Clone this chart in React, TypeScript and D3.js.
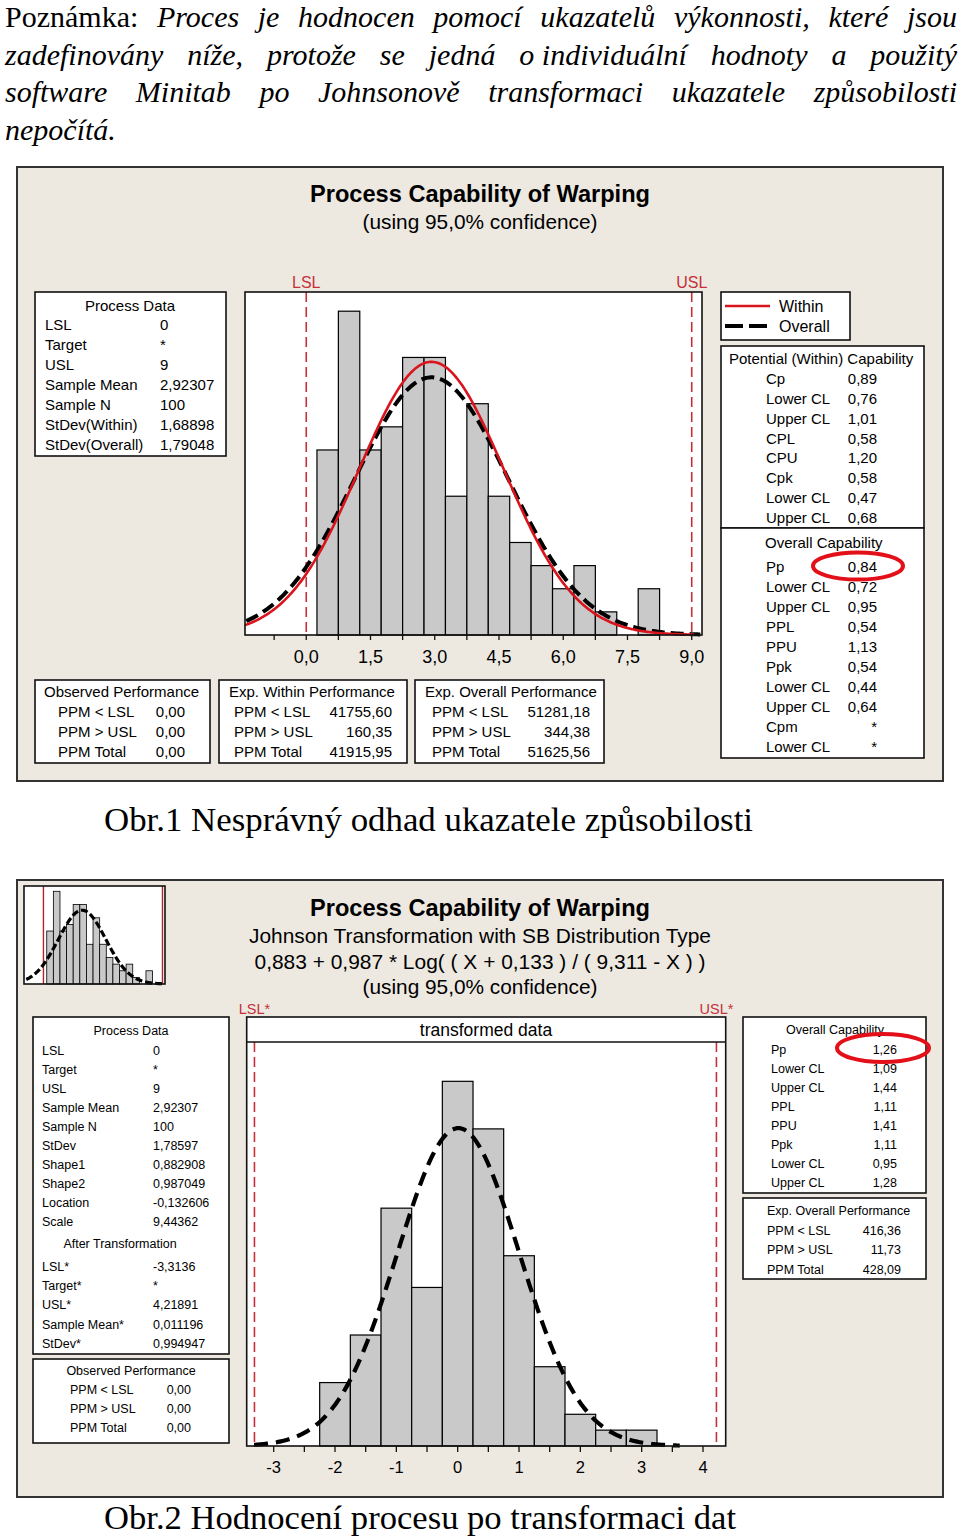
import React, { useMemo } from 'react';
import * as d3 from 'd3';

// ---------------- DATA ----------------
const notePrefix = 'Poznámka:';
const noteLines = [
  'Proces je hodnocen pomocí ukazatelů výkonnosti, které jsou',
  'zadefinovány níže, protože se jedná o\u00A0individuální hodnoty a použitý',
  'software Minitab po Johnsonově transformaci ukazatele způsobilosti',
  'nepočítá.',
];
const caption1 = 'Obr.1 Nesprávný odhad ukazatele způsobilosti';
const caption2 = 'Obr.2 Hodnocení procesu po transformaci dat';

const title = 'Process Capability of Warping';
const subtitle = '(using 95,0% confidence)';
const johnsonLine = 'Johnson Transformation with SB Distribution Type';
const formulaLine = '0,883 + 0,987 * Log( ( X + 0,133 ) / ( 9,311 - X ) )';

// original data histogram (bin width 0.5)
const topBinCenters = [0.5, 1, 1.5, 2, 2.5, 3, 3.5, 4, 4.5, 5, 5.5, 6, 6.5, 7, 7.5, 8];
const topCounts = [8, 14, 8, 9, 12, 12, 6, 10, 6, 4, 3, 2, 3, 1, 0, 2];
const topBinWidth = 0.5;
const topTickLabels = [0, 1.5, 3, 4.5, 6, 7.5, 9];
const topMinorTicks = [-0.75, 0, 0.75, 1.5, 2.25, 3, 3.75, 4.5, 5.25, 6, 6.75, 7.5, 8.25, 9];
const LSL = 0, USL = 9;
const sampleN = 100;
const sampleMean = 2.92307;
const sdWithin = 1.68898;
const sdOverall = 1.79048;

// transformed data histogram
const botBinCenters = [-2, -1.5, -1, -0.5, 0, 0.5, 1, 1.5, 2, 2.5, 3];
const botCounts = [4, 7, 15, 10, 23, 20, 12, 5, 2, 1, 1];
const botBinWidth = 0.5;
const botTickLabels = [-3, -2, -1, 0, 1, 2, 3, 4];
const botMinorTicks = [-3, -2.5, -2, -1.5, -1, -0.5, 0, 0.5, 1, 1.5, 2, 2.5, 3, 3.5, 4];
const LSLt = -3.3136, USLt = 4.21891;
const meanT = 0.011196;
const sdT = 0.994947;

// tables
const topProcessData = [
  ['LSL', '0'], ['Target', '*'], ['USL', '9'], ['Sample Mean', '2,92307'],
  ['Sample N', '100'], ['StDev(Within)', '1,68898'], ['StDev(Overall)', '1,79048'],
];
const observedPerf = [['PPM < LSL', '0,00'], ['PPM > USL', '0,00'], ['PPM Total', '0,00']];
const expWithinPerf = [['PPM < LSL', '41755,60'], ['PPM > USL', '160,35'], ['PPM Total', '41915,95']];
const expOverallPerf = [['PPM < LSL', '51281,18'], ['PPM > USL', '344,38'], ['PPM Total', '51625,56']];
const potentialCap = [
  ['Cp', '0,89'], ['Lower CL', '0,76'], ['Upper CL', '1,01'], ['CPL', '0,58'],
  ['CPU', '1,20'], ['Cpk', '0,58'], ['Lower CL', '0,47'], ['Upper CL', '0,68'],
];
const overallCapTop = [
  ['Pp', '0,84'], ['Lower CL', '0,72'], ['Upper CL', '0,95'], ['PPL', '0,54'], ['PPU', '1,13'],
  ['Ppk', '0,54'], ['Lower CL', '0,44'], ['Upper CL', '0,64'], ['Cpm', '*'], ['Lower CL', '*'],
];
const botProcessData = [
  ['LSL', '0'], ['Target', '*'], ['USL', '9'], ['Sample Mean', '2,92307'], ['Sample N', '100'],
  ['StDev', '1,78597'], ['Shape1', '0,882908'], ['Shape2', '0,987049'], ['Location', '-0,132606'],
  ['Scale', '9,44362'],
];
const afterTransformation = [
  ['LSL*', '-3,3136'], ['Target*', '*'], ['USL*', '4,21891'], ['Sample Mean*', '0,011196'], ['StDev*', '0,994947'],
];
const overallCapBot = [
  ['Pp', '1,26'], ['Lower CL', '1,09'], ['Upper CL', '1,44'], ['PPL', '1,11'],
  ['PPU', '1,41'], ['Ppk', '1,11'], ['Lower CL', '0,95'], ['Upper CL', '1,28'],
];
const expOverallPerfBot = [['PPM < LSL', '416,36'], ['PPM > USL', '11,73'], ['PPM Total', '428,09']];

// ---------------- STYLE ----------------
const SANS = "'Liberation Sans', Arial, sans-serif";
const SERIF = "'Liberation Serif', 'Times New Roman', serif";
const BG = '#EDE9E1';
const CURVE_RED = '#D9141C';
const LIMIT_RED = '#C5303A';
const BAR = '#C9C9C9';

const fmtComma = (v: number) => d3.format('.1f')(v).replace('.', ',');

const normalFit = (m: number, s: number, n: number, bw: number) => (v: number) =>
  (n * bw) / (s * Math.sqrt(2 * Math.PI)) * Math.exp(-0.5 * ((v - m) / s) ** 2);

function curvePath(
  x: d3.ScaleLinear<number, number>, y: d3.ScaleLinear<number, number>,
  f: (v: number) => number, x0: number, x1: number,
) {
  const pts = d3.range(x0, x1 + 1e-9, (x1 - x0) / 300).map((v) => [v, f(v)] as [number, number]);
  return d3.line<[number, number]>().x((d) => x(d[0])).y((d) => y(d[1])).curve(d3.curveLinear)(pts) || '';
}

function Bars({ x, y, centers, counts, bw, sw = 1.2 }: any) {
  return (
    <g>
      {centers.map((c: number, i: number) =>
        counts[i] > 0 ? (
          <rect key={i} x={x(c - bw / 2)} y={y(counts[i])} width={x(c + bw / 2) - x(c - bw / 2)}
            height={y(0) - y(counts[i])} fill={BAR} stroke="#000" strokeWidth={sw} />
        ) : null,
      )}
    </g>
  );
}

type Row = string[];
function TableRows({ rows, lx, vx, y0, dy, fs, anchor = 'end' }: { rows: Row[]; lx: number; vx: number; y0: number; dy: number; fs: number; anchor?: string }) {
  return (
    <g fontFamily={SANS} fontSize={fs} fill="#000">
      {rows.map((r, i) => (
        <g key={i}>
          <text x={lx} y={y0 + i * dy} dominantBaseline="central">{r[0]}</text>
          <text x={vx} y={y0 + i * dy} dominantBaseline="central" textAnchor={anchor as any}>{r[1]}</text>
        </g>
      ))}
    </g>
  );
}

function Box({ x0, y0, x1, y1, sw = 1.6 }: any) {
  return <rect x={x0} y={y0} width={x1 - x0} height={y1 - y0} fill="#fff" stroke="#111" strokeWidth={sw} />;
}

function JustifiedNote() {
  const layout = useMemo(() => {
    const canvas = document.createElement('canvas');
    const ctx = canvas.getContext('2d')!;
    const fs = 30;
    const fItal = `italic ${fs}px 'Liberation Serif'`;
    const fReg = `${fs}px 'Liberation Serif'`;
    const left = 5, right = 957;
    const out: { t: string; x: number; y: number; it: boolean }[] = [];
    noteLines.forEach((line, li) => {
      const words = line.split(' ').map((t) => ({ t, it: true }));
      if (li === 0) words.unshift({ t: notePrefix, it: false });
      const widths = words.map((w) => {
        ctx.font = w.it ? fItal : fReg;
        return ctx.measureText(w.t).width;
      });
      ctx.font = fItal;
      const space = ctx.measureText(' ').width;
      const total = d3.sum(widths);
      const last = li === noteLines.length - 1;
      const gap = last || words.length < 2 ? space : (right - left - total) / (words.length - 1);
      let cx = left;
      const yb = 27 + li * 37.5;
      words.forEach((w, i) => {
        out.push({ t: w.t, x: cx, y: yb, it: w.it });
        cx += widths[i] + gap;
      });
    });
    return out;
  }, []);
  return (
    <g fontFamily={SERIF} fontSize={30} fill="#000">
      {layout.map((w, i) => (
        <text key={i} x={w.x} y={w.y} fontStyle={w.it ? 'italic' : 'normal'}>{w.t}</text>
      ))}
    </g>
  );
}

export default function App() {
  // top chart scales
  const xTop = d3.scaleLinear().domain([-1.43, 9.24]).range([245, 702]);
  const yTop = d3.scaleLinear().domain([0, 14.83]).range([635, 292]);
  const withinF = normalFit(sampleMean, sdWithin, sampleN, topBinWidth);
  const overallF = normalFit(sampleMean, sdOverall, sampleN, topBinWidth);

  // inset scales
  const xIn = d3.scaleLinear().domain([-1.47, 9.19]).range([24, 165]);
  const yIn = d3.scaleLinear().domain([0, 14.8]).range([984, 886]);

  // bottom chart scales
  const xBot = d3.scaleLinear().domain([-3.44, 4.37]).range([246.7, 725.7]);
  const yBot = d3.scaleLinear().domain([0, 25.48]).range([1446, 1042]);
  const transF = normalFit(meanT, sdT, sampleN, botBinWidth);

  return (
    <svg width={960} height={1540} viewBox="0 0 960 1540"
      style={{ position: 'absolute', left: 0, top: 0, background: '#fff' }}>
      <rect x={0} y={0} width={960} height={1540} fill="#fff" />
      <JustifiedNote />

      {/* ================= TOP PANEL ================= */}
      <rect x={17} y={167} width={926} height={614} fill={BG} stroke="#333" strokeWidth={2} />
      <g fontFamily={SANS} textAnchor="middle" fill="#000">
        <text x={480} y={193} fontSize={24} fontWeight="bold" dominantBaseline="central"
          textLength={340} lengthAdjust="spacingAndGlyphs">{title}</text>
        <text x={480} y={221} fontSize={21} dominantBaseline="central"
          textLength={235} lengthAdjust="spacingAndGlyphs">{subtitle}</text>
      </g>

      {/* histogram frame */}
      <rect x={xTop.range()[0]} y={yTop.range()[1]} width={xTop.range()[1] - xTop.range()[0]}
        height={yTop.range()[0] - yTop.range()[1]} fill="#fff" stroke="none" />
      <Bars x={xTop} y={yTop} centers={topBinCenters} counts={topCounts} bw={topBinWidth} />
      {[LSL, USL].map((v, i) => (
        <line key={i} x1={xTop(v)} x2={xTop(v)} y1={yTop.range()[1]} y2={yTop.range()[0]}
          stroke={LIMIT_RED} strokeWidth={1.6} strokeDasharray="10,5" />
      ))}
      <path d={curvePath(xTop, yTop, overallF, -1.4, 9.2)} fill="none" stroke="#000" strokeWidth={4}
        strokeDasharray="13,6" />
      <path d={curvePath(xTop, yTop, withinF, -1.43, 9.05)} fill="none" stroke={CURVE_RED} strokeWidth={2.6} />
      <rect x={xTop.range()[0]} y={yTop.range()[1]} width={xTop.range()[1] - xTop.range()[0]}
        height={yTop.range()[0] - yTop.range()[1]} fill="none" stroke="#111" strokeWidth={1.6} />
      <g fontFamily={SANS} fontSize={16} fill={LIMIT_RED} textAnchor="middle">
        <text x={xTop(LSL)} y={282} dominantBaseline="central">LSL</text>
        <text x={xTop(USL)} y={282} dominantBaseline="central">USL</text>
      </g>
      {topMinorTicks.map((t, i) => (
        <line key={i} x1={xTop(t)} x2={xTop(t)} y1={yTop(0)} y2={yTop(0) + 5} stroke="#111" strokeWidth={1.3} />
      ))}
      <g fontFamily={SANS} fontSize={18} fill="#000" textAnchor="middle">
        {topTickLabels.map((t, i) => (
          <text key={i} x={xTop(t)} y={657} dominantBaseline="central">{fmtComma(t)}</text>
        ))}
      </g>

      {/* Process data box */}
      <Box x0={35} y0={292} x1={226} y1={456} />
      <text x={130} y={305} fontFamily={SANS} fontSize={15} textAnchor="middle" dominantBaseline="central">Process Data</text>
      <TableRows rows={topProcessData} lx={45} vx={160} y0={324} dy={20} fs={15} anchor="start" />

      {/* performance boxes */}
      <Box x0={35} y0={680} x1={210} y1={763} />
      <text x={44} y={691} fontFamily={SANS} fontSize={15} dominantBaseline="central">Observed Performance</text>
      <TableRows rows={observedPerf} lx={58} vx={185} y0={711} dy={20} fs={15} />

      <Box x0={219} y0={680} x1={407} y1={763} />
      <text x={229} y={691} fontFamily={SANS} fontSize={15} dominantBaseline="central">Exp. Within Performance</text>
      <TableRows rows={expWithinPerf} lx={234} vx={392} y0={711} dy={20} fs={15} />

      <Box x0={415} y0={680} x1={604} y1={763} />
      <text x={425} y={691} fontFamily={SANS} fontSize={15} dominantBaseline="central">Exp. Overall Performance</text>
      <TableRows rows={expOverallPerf} lx={432} vx={590} y0={711} dy={20} fs={15} />

      {/* legend */}
      <Box x0={721} y0={292} x1={850} y1={340} />
      <line x1={725} x2={770} y1={306} y2={306} stroke={CURVE_RED} strokeWidth={2.6} />
      <line x1={725} x2={770} y1={326} y2={326} stroke="#000" strokeWidth={4} strokeDasharray="18,6" />
      <g fontFamily={SANS} fontSize={16} fill="#000">
        <text x={779} y={306} dominantBaseline="central">Within</text>
        <text x={779} y={326} dominantBaseline="central">Overall</text>
      </g>

      {/* capability boxes */}
      <Box x0={721} y0={346} x1={924} y1={528} />
      <text x={729} y={358} fontFamily={SANS} fontSize={15} dominantBaseline="central">Potential (Within) Capability</text>
      <TableRows rows={potentialCap} lx={766} vx={877} y0={378.3} dy={19.9} fs={15} />
      <Box x0={721} y0={528} x1={924} y1={758} />
      <text x={765} y={542} fontFamily={SANS} fontSize={15} dominantBaseline="central">Overall Capability</text>
      <TableRows rows={overallCapTop} lx={766} vx={877} y0={566.7} dy={19.94} fs={15} />
      <ellipse cx={858} cy={566} rx={45} ry={13.5} fill="none" stroke="#E3101A" strokeWidth={4} />

      {/* caption 1 */}
      <text x={104} y={831} fontFamily={SERIF} fontSize={33} textLength={649} lengthAdjust="spacingAndGlyphs">{caption1}</text>

      {/* ================= BOTTOM PANEL ================= */}
      <rect x={17} y={880} width={926} height={617} fill={BG} stroke="#333" strokeWidth={2} />

      {/* inset */}
      <rect x={24} y={886} width={141} height={98} fill="#fff" />
      <Bars x={xIn} y={yIn} centers={topBinCenters} counts={topCounts} bw={topBinWidth} sw={0.8} />
      {[LSL, USL].map((v, i) => (
        <line key={i} x1={xIn(v)} x2={xIn(v)} y1={886} y2={984} stroke="#B3232B" strokeWidth={1.4} />
      ))}
      <path d={curvePath(xIn, yIn, overallF, -1.3, 9.1)} fill="none" stroke="#000" strokeWidth={3.2}
        strokeDasharray="7,3" />
      <rect x={24} y={886} width={141} height={98} fill="none" stroke="#111" strokeWidth={1.6} />

      <g fontFamily={SANS} textAnchor="middle" fill="#000">
        <text x={480} y={907} fontSize={24} fontWeight="bold" dominantBaseline="central"
          textLength={340} lengthAdjust="spacingAndGlyphs">{title}</text>
        <text x={480} y={935} fontSize={21} dominantBaseline="central"
          textLength={462} lengthAdjust="spacingAndGlyphs">{johnsonLine}</text>
        <text x={480} y={961} fontSize={21} dominantBaseline="central"
          textLength={451} lengthAdjust="spacingAndGlyphs">{formulaLine}</text>
        <text x={480} y={986} fontSize={21} dominantBaseline="central"
          textLength={235} lengthAdjust="spacingAndGlyphs">{subtitle}</text>
      </g>

      {/* transformed histogram */}
      <rect x={xBot.range()[0]} y={1017} width={xBot.range()[1] - xBot.range()[0]} height={1446 - 1017}
        fill="#fff" />
      <Bars x={xBot} y={yBot} centers={botBinCenters} counts={botCounts} bw={botBinWidth} />
      {[LSLt, USLt].map((v, i) => (
        <line key={i} x1={xBot(v)} x2={xBot(v)} y1={yBot.range()[1]} y2={yBot.range()[0]}
          stroke={LIMIT_RED} strokeWidth={1.6} strokeDasharray="10,5" />
      ))}
      <path d={curvePath(xBot, yBot, transF, -3.32, 3.62)} fill="none" stroke="#000" strokeWidth={4.2}
        strokeDasharray="14,8" />
      <rect x={xBot.range()[0]} y={1017} width={xBot.range()[1] - xBot.range()[0]} height={1446 - 1017}
        fill="none" stroke="#111" strokeWidth={1.6} />
      <line x1={xBot.range()[0]} x2={xBot.range()[1]} y1={1042} y2={1042} stroke="#111" strokeWidth={1.6} />
      <text x={486} y={1030} fontFamily={SANS} fontSize={17.5} textAnchor="middle" dominantBaseline="central">transformed data</text>
      <g fontFamily={SANS} fontSize={14.5} fill={LIMIT_RED} textAnchor="middle">
        <text x={xBot(LSLt)} y={1009} dominantBaseline="central">LSL*</text>
        <text x={xBot(USLt)} y={1009} dominantBaseline="central">USL*</text>
      </g>
      {botMinorTicks.map((t, i) => (
        <line key={i} x1={xBot(t)} x2={xBot(t)} y1={yBot(0)} y2={yBot(0) + 6} stroke="#111" strokeWidth={1.3} />
      ))}
      <g fontFamily={SANS} fontSize={16.5} fill="#000" textAnchor="middle">
        {botTickLabels.map((t, i) => (
          <text key={i} x={xBot(t)} y={1467} dominantBaseline="central">{String(t)}</text>
        ))}
      </g>

      {/* bottom left tables */}
      <Box x0={33} y0={1017} x1={229} y1={1354} />
      <text x={131} y={1031} fontFamily={SANS} fontSize={12.5} textAnchor="middle" dominantBaseline="central">Process Data</text>
      <TableRows rows={botProcessData} lx={42} vx={153} y0={1051} dy={19} fs={12.5} anchor="start" />
      <text x={120} y={1244} fontFamily={SANS} fontSize={12.5} textAnchor="middle" dominantBaseline="central">After Transformation</text>
      <TableRows rows={afterTransformation} lx={42} vx={153} y0={1267} dy={19.2} fs={12.5} anchor="start" />

      <Box x0={33} y0={1359} x1={229} y1={1443} />
      <text x={131} y={1371} fontFamily={SANS} fontSize={12.5} textAnchor="middle" dominantBaseline="central">Observed Performance</text>
      <TableRows rows={observedPerf} lx={70} vx={191} y0={1390} dy={19} fs={12.5} />

      {/* bottom right tables */}
      <Box x0={743} y0={1017} x1={926} y1={1193} />
      <text x={835} y={1030} fontFamily={SANS} fontSize={12.5} textAnchor="middle" dominantBaseline="central">Overall Capability</text>
      <TableRows rows={overallCapBot} lx={771} vx={897} y0={1050} dy={19} fs={12.5} />
      <ellipse cx={883} cy={1048} rx={46} ry={14} fill="none" stroke="#E3101A" strokeWidth={4} />

      <Box x0={743} y0={1198} x1={926} y1={1279} />
      <text x={767} y={1211} fontFamily={SANS} fontSize={12.5} dominantBaseline="central">Exp. Overall Performance</text>
      <TableRows rows={expOverallPerfBot} lx={767} vx={901} y0={1231} dy={19.3} fs={12.5} />

      {/* caption 2 */}
      <text x={104} y={1529} fontFamily={SERIF} fontSize={33} textLength={632} lengthAdjust="spacingAndGlyphs">{caption2}</text>
    </svg>
  );
}
